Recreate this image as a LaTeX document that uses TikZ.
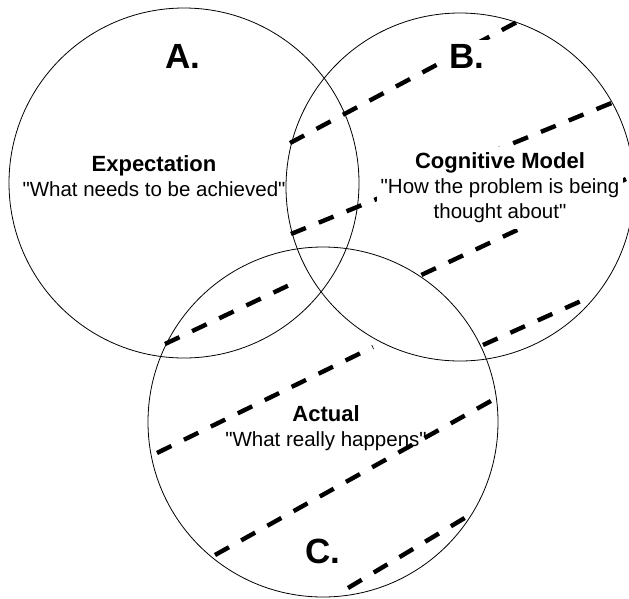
\documentclass[tikz,border=0pt]{standalone}
\usepackage{fontspec}
\setmainfont{Liberation Sans}[Ligatures=TeXOff]

\begin{document}
\begin{tikzpicture}[x=1pt,y=-1pt,
    ring/.style={line width=0.8pt},
    stripe/.style={line width=4.4pt, dash pattern=on 16pt off 14pt},
    mask/.style={fill=white},
    letter/.style={font=\fontsize{35}{40}\selectfont\bfseries, inner xsep=6pt, inner ysep=4pt},
    blurb/.style={align=center, font=\fontsize{20.5}{25}\selectfont, inner xsep=4pt, inner ysep=6pt}]
  \useasboundingbox (0,0) rectangle (629,598);

  % stripes
  \draw[stripe] (290,143) -- (517,22);
  \draw[stripe] (291,234) -- (614,102);
  \draw[stripe] (626,179) -- (417,277);
  \draw[stripe] (165,344) -- (300,280);
  \draw[stripe] (483,345) -- (590,297);
  \draw[stripe] (157,453) -- (373,347);
  \draw[stripe] (215,555) -- (498,397);
  \draw[stripe] (348,588) -- (473,513);

  \node[letter] (labA) at (183,56) {A.};
  \node[letter,mask] (labB) at (467,56) {B.};
  \node[letter] (labC) at (323,551) {C.};

  \node[blurb] (expect) at (154,176) {\textbf{\fontsize{22}{25}\selectfont Expectation}\\"What needs to be achieved"};
  \node[blurb,mask] (model) at (500,188) {\textbf{\fontsize{22}{25}\selectfont Cognitive Model}\\"How the problem is being\\thought about"};
  \node[blurb] (actual) at (326,428) {\textbf{\fontsize{22}{25}\selectfont Actual}\\"What really happens"};

  \draw[ring] (184,183) circle (175pt);
  \draw[ring] (460,187) circle (174pt);
  \draw[ring] (323,422) circle (175pt);
\end{tikzpicture}
\end{document}
